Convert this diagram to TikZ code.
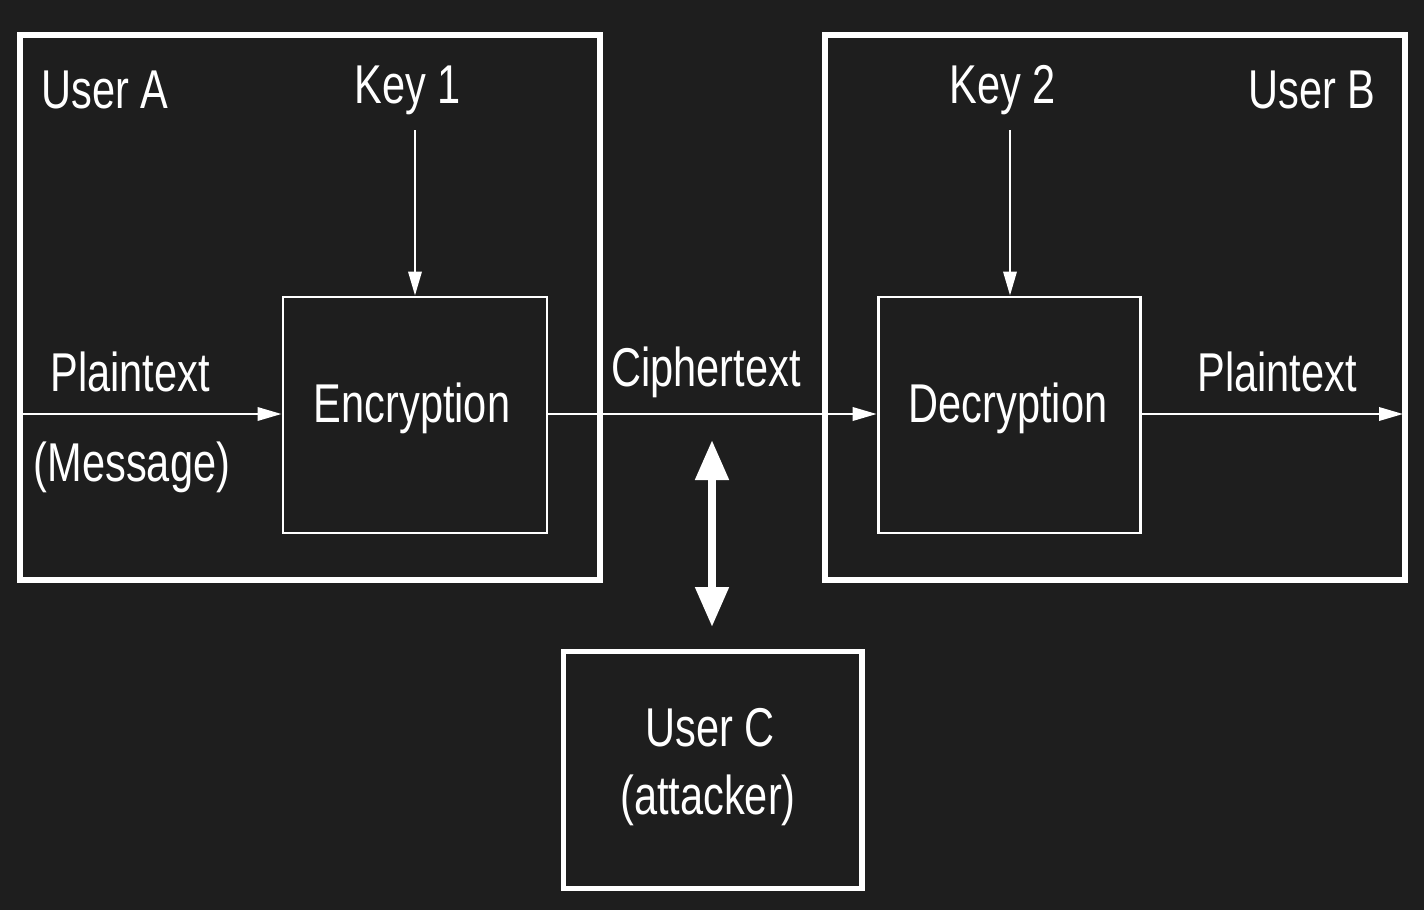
\documentclass[tikz,border=0pt]{standalone}
\usepackage{fontspec}
\setmainfont{Liberation Sans}[FakeStretch=0.76]
\usetikzlibrary{arrows.meta}
\definecolor{bg}{HTML}{1E1E1E}
\begin{document}
\begin{tikzpicture}[x=0.75pt,y=-0.75pt,
  thickbox/.style={draw=white,line width=4pt},
  thinbox/.style={draw=white,line width=2.2pt},
  lbl/.style={text=white,font=\fontsize{41}{46}\selectfont,inner sep=0pt},
  arr/.style={draw=white,line width=1.8pt,-{Triangle[length=18pt,width=10pt]}}]
\fill[bg] (0,0) rectangle (1424,910);
\useasboundingbox (0,0) rectangle (1424,910);
\draw[thickbox] (20,35) rectangle (600,580);
\draw[thickbox] (825,35) rectangle (1405,580);
\node[thinbox,minimum width=198pt,minimum height=177pt,inner sep=0pt] (enc) at (415,415) {};
\node[thinbox,minimum width=197pt,minimum height=177pt,inner sep=0pt] (dec) at (1009.5,415) {};
\node[thickbox,minimum width=224pt,minimum height=178pt,inner sep=0pt] (uc) at (712.5,770) {};
\node[lbl] at (105,90) {User A};
\node[lbl] at (1312,90) {User B};
\node[lbl] (k1) at (408,90) {Key 1};
\node[lbl] (k2) at (1003,90) {Key 2};
\node[lbl] at (130,372) {Plaintext};
\node[lbl] at (132,467) {(Message)};
\node[lbl] at (412,408) {Encryption};
\node[lbl] at (706,372) {Ciphertext};
\node[lbl] at (1008,408) {Decryption};
\node[lbl] at (1277,372) {Plaintext};
\node[lbl] at (710,728) {User C};
\node[lbl] at (708,800) {(attacker)};
\coordinate (in) at (20,414);
\coordinate (out) at (1403,414);
\coordinate (k1s) at (415,130);
\coordinate (k2s) at (1010,130);
\coordinate (da) at (712,440);
\coordinate (db) at (712,627);
\draw[arr] (in) -- (enc.west |- in);
\draw[arr] (enc.east |- in) -- (dec.west |- in);
\draw[arr] (dec.east |- in) -- (out);
\draw[arr] (k1s) -- (enc.north -| k1s);
\draw[arr] (k2s) -- (dec.north -| k2s);
\draw[draw=white,line width=6pt,{Triangle[length=30pt,width=24pt]}-{Triangle[length=30pt,width=24pt]}] (da) -- (db);
\end{tikzpicture}
\end{document}
